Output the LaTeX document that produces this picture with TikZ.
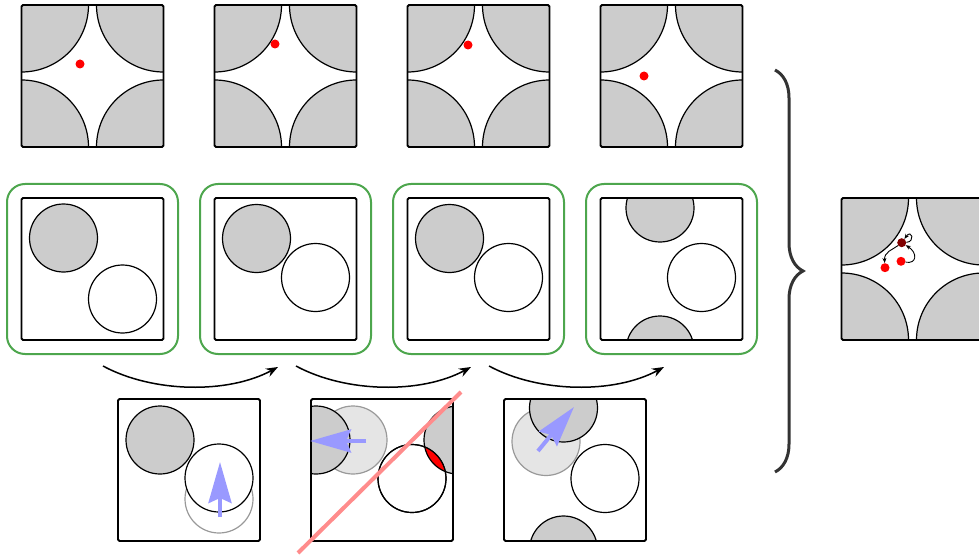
\documentclass[tikz,border=0pt]{standalone}
\usetikzlibrary{arrows.meta, decorations.pathreplacing}
\definecolor{framegreen}{RGB}{77,166,77}

\begin{document}
\begin{tikzpicture}[
      x=1pt, y=-1pt,
      >=Stealth,
      disc/.style={draw, line width=1.2pt, fill=black!20},
      free/.style={draw, line width=1.2pt, fill=white},
      trace/.style={draw=black!40, line width=1.2pt},
      ghost/.style={trace, fill=black!10},
      cspace/.style={draw, line width=1.8pt, rounded corners=1.5pt, fill=white, inner sep=0pt, minimum size=142pt,
        path picture={
          \draw[disc] (path picture bounding box.north west) circle (67);
          \draw[disc] (path picture bounding box.north east) circle (67);
          \draw[disc] (path picture bounding box.south west) circle (67);
          \draw[disc] (path picture bounding box.south east) circle (67);
        }},
      cell/.style={draw, line width=1.8pt, rounded corners=1.5pt, inner sep=0pt, minimum size=142pt},
      accepted/.style={draw=framegreen, line width=2pt, rounded corners=18pt, minimum width=171pt, minimum height=170pt},
      nudge/.style={-{Stealth[length=41pt, width=23pt, inset=5pt]}, line width=4pt, draw=blue!40},
      move/.style={-{Stealth[length=12pt, width=9pt]}, line width=1.5pt},
      hop/.style={-{Stealth[length=5pt, width=4pt]}, line width=0.9pt},
      reject/.style={draw=red!45, line width=4pt},
      dot/.style={circle, fill=red, inner sep=0pt, minimum size=9pt},
      bracket/.style={decorate, decoration={brace, amplitude=28pt}, draw=black!80, line width=3pt}
    ]

    \useasboundingbox (0,0) rectangle (979,556);
    \clip (0,0) rectangle (979,556);

    \node[cspace] (top1) at (92.5,76) {};
    \node[cspace] (top2) at (285.5,76) {};
    \node[cspace] (top3) at (478.5,76) {};
    \node[cspace] (top4) at (671.5,76) {};
    \node[dot] (pos1) at (80,64) {};
    \node[dot] (pos2) at (275,44) {};
    \node[dot] (pos3) at (468,45) {};
    \node[dot] (pos4) at (644,76) {};

    \node[accepted] (accept1) at (92.5,269) {};
    \node[accepted] (accept2) at (285.5,269) {};
    \node[accepted] (accept3) at (478.5,269) {};
    \node[accepted] (accept4) at (671.5,269) {};

    \draw[disc] (63.5,238) circle (34);
    \draw[free] (122.5,299) circle (34);
    \draw[disc] (256.5,238.5) circle (34);
    \draw[free] (315.5,277.5) circle (34);
    \draw[disc] (449.5,238.5) circle (34);
    \draw[free] (508.5,277.5) circle (34);
    \begin{scope}
      \clip (600.5,198) rectangle (742.5,340);
      \draw[disc] (660,208) circle (34);
      \draw[disc] (660,350) circle (34);
      \draw[free] (701.5,277.5) circle (34);
    \end{scope}
    \node[cell] (state1) at (92.5,269) {};
    \node[cell] (state2) at (285.5,269) {};
    \node[cell] (state3) at (478.5,269) {};
    \node[cell] (state4) at (671.5,269) {};

    \draw[move] ([shift={(10.5,11)}]accept1.south) .. controls +(50,27) and +(-50,27) .. ([shift={(-7.5,12)}]accept2.south);
    \draw[move] ([shift={(10.5,11)}]accept2.south) .. controls +(50,27) and +(-50,27) .. ([shift={(-7.5,12)}]accept3.south);
    \draw[move] ([shift={(10.5,11)}]accept3.south) .. controls +(50,27) and +(-50,27) .. ([shift={(-7.5,12)}]accept4.south);

    \draw[trace] (219,499) circle (34);
    \draw[disc] (160,440) circle (34);
    \draw[free] (219,478) circle (34);
    \node[cell] (trial1) at (189,470) {};
    \draw[nudge] (220,517) -- (220,462);

    \begin{scope}
      \clip (311,399) rectangle (453,541);
      \draw[ghost] (353,440) circle (34);
      \draw[disc] (316,440) circle (34);
      \draw[disc] (458,440) circle (34);
      \draw[free] (412,478.5) circle (34);
      \begin{scope}
        \clip (412,478.5) circle (34);
        \draw[disc, fill=red] (458,440) circle (34);
      \end{scope}
      \draw[line width=1.2pt] (412,478.5) circle (34);
    \end{scope}
    \node[cell] (trial2) at (382,470) {};
    \draw[nudge] (366,441) -- (310,441);
    \draw[reject] (298,553) -- (461,392);

    \begin{scope}
      \clip (504,399) rectangle (646,541);
      \draw[ghost] (546,441.5) circle (34);
      \draw[disc] (563.5,408) circle (34);
      \draw[disc] (563.5,550) circle (34);
      \draw[free] (605,478.5) circle (34);
    \end{scope}
    \node[cell] (trial3) at (575,470) {};
    \draw[nudge] (538,451) -- (574,407);

    \draw[bracket] (775,70) -- (775,472);

    \node[cspace] (final) at (912.5,269) {};
    \node[dot] (end1) at (885,267.7) {};
    \node[dot] (end2) at (901,261.3) {};
    \node[dot, fill=red!50!black] (stay) at (901.7,242.7) {};
    \draw[hop] (stay) .. controls +(-9,7) and +(-1,-16) .. (end1);
    \draw[hop] (end2) .. controls +(16,3) and +(16,10) .. (stay);
    \draw[hop] (stay) .. controls +(14,-1) and +(10,-14) .. (stay);

  \end{tikzpicture}
\end{document}
